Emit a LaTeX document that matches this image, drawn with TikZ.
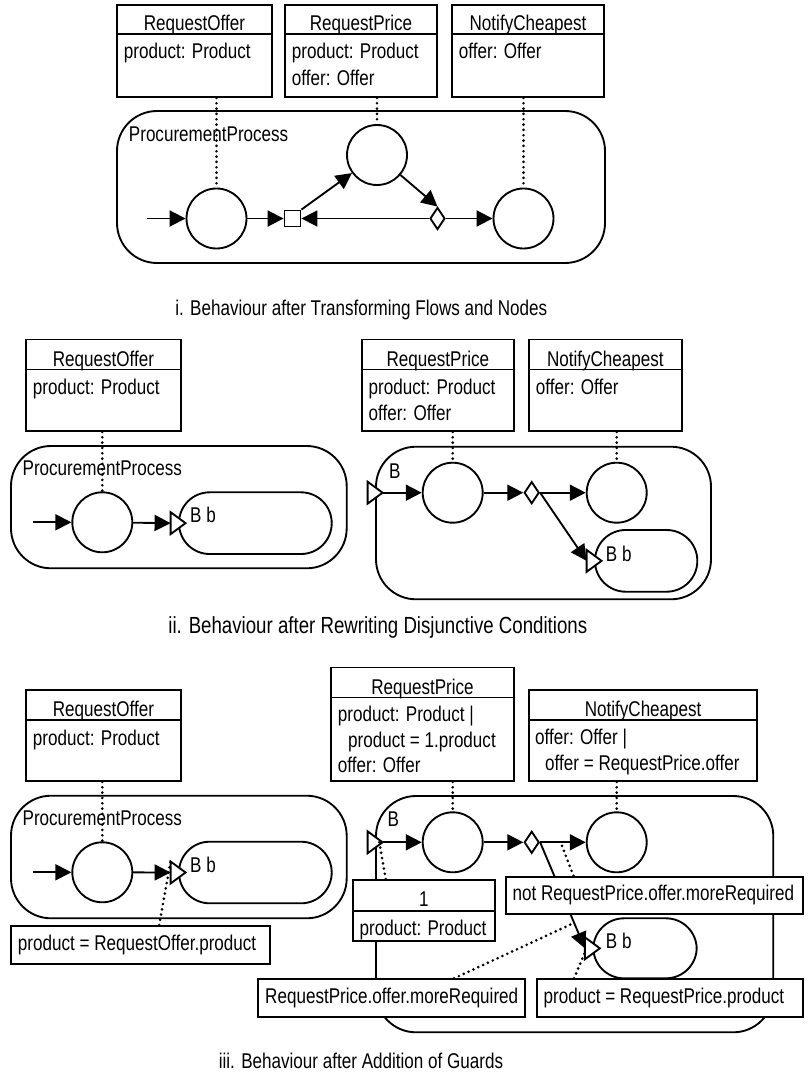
\documentclass[tikz,border=0pt]{standalone}
\usepackage{fontspec}
\setmainfont[FakeStretch=0.8]{Liberation Sans}
\usetikzlibrary{arrows.meta,shapes.geometric,fit}

\tikzset{every picture/.style={line width=1.4pt}}
\tikzset{
  clshead/.style={draw, fill=white, inner sep=0pt},
  clsbody/.style={draw, fill=white, inner sep=0pt},
  head/.style={inner sep=0pt, anchor=base},
  proc/.style={draw, inner sep=0pt, rounded corners=30pt},
  sub/.style={draw, fill=white, inner sep=0pt, rounded corners=23pt},
  act/.style={draw, circle, fill=white, inner sep=0pt, minimum size=45pt},
  decide/.style={draw, diamond, fill=white, inner sep=0pt, minimum width=11.25pt, minimum height=16.5pt},
  merge/.style={draw, rectangle, fill=white, inner sep=0pt, minimum size=12pt},
  guard/.style={draw, fill=white, inner sep=0pt},
  txt/.style={inner sep=0pt, anchor=base west},
  flow/.style={-{Triangle[length=12pt,width=12pt]}},
  link/.style={line width=2.2pt, line cap=round, dash pattern=on 0pt off 4pt},
  inpin/.pic={
    \draw[fill=white] (-7.5,-11) -- (7.5,0) -- (-7.5,11) -- cycle;
    \coordinate (-in) at (-7.5,0);
    \coordinate (-out) at (7.5,0);
    \coordinate (-lo) at (-7.5,11);
    \coordinate (-e) at (3.75,2.75);
  }
}

\begin{document}
\begin{tikzpicture}[x=0.75pt,y=0.75pt,yscale=-1,xscale=1,font=\fontsize{16pt}{19pt}\selectfont]
\useasboundingbox (0,0) rectangle (807,1074);

%%%%%%%%%% i. %%%%%%%%%%
%Shape: Rounded Rect
\node[proc, fit={(117,111) (605,263)}] (pp1) {};
% Text Node
\node[txt] (pp1t) at (128,141.5) {ProcurementProcess};
%Shape: Circle
\node[act] (a1) at (216.5,218.5) {};
\node[act] (a2) at (377,155) {};
\node[act] (a3) at (523.5,218.5) {};
%Shape: Square
\node[merge] (m1) at (292.5,218.5) {};
%Shape: Diamond
\node[decide] (d1) at (437.5,218.5) {};
\coordinate (s1) at (147,218.5);
%Straight Lines
\draw[flow] (s1) -- (a1);
\draw[flow] (a1) -- (m1);
\draw[flow] (m1.north east) -- (a2);
\draw[flow] (a2) -- (d1.north);
\draw[flow] (d1.west) -- (m1.east);
\draw[flow] (d1) -- (a3);

%Shape: Rectangle
\node[clshead, fit={(117,5) (272,34)}] (ro1) {};
\node[clsbody, fit={(117,34) (272,97)}] (ro1b) {};
\node[head] (ro1n) at ([yshift=-3.3pt]ro1.south) {RequestOffer};
\node[txt] (ro1p) at (123,59) {product: Product};
\node[clshead, fit={(285,5) (437,34)}] (rp1) {};
\node[clsbody, fit={(285,34) (437,97)}] (rp1b) {};
\node[head] (rp1n) at ([yshift=-3.3pt]rp1.south) {RequestPrice};
\node[txt] (rp1p) at (291,59) {product: Product};
\node[txt] (rp1o) at (291,85) {offer: Offer};
\node[clshead, fit={(452,5) (604,34)}] (nc1) {};
\node[clsbody, fit={(452,34) (604,97)}] (nc1b) {};
\node[head] (nc1n) at ([yshift=-3.3pt]nc1.south) {NotifyCheapest};
\node[txt] (nc1o) at (458,59) {offer: Offer};
%Dotted Lines
\draw[link] (a1.north |- ro1b.south) -- (a1.north);
\draw[link] (a2.north |- rp1b.south) -- (a2.north);
\draw[link] (a3.north |- nc1b.south) -- (a3.north);

% Text Node
\node[head] (cap1) at (361.3,315) {i. Behaviour after Transforming Flows and Nodes};

%%%%%%%%%% ii. %%%%%%%%%%
%Shape: Rounded Rect
\node[proc, fit={(11,446) (346.7,568.3)}] (pp2) {};
\node[txt] (pp2t) at (21.7,475) {ProcurementProcess};
\node[act] (b1) at (102.3,522.3) {};
\node[sub, fit={(179,492.3) (331.7,554)}] (bb2) {};
\pic (pn2) at (bb2.west) {inpin};
\node[txt] (bb2t) at (189.3,522.5) {B b};
\coordinate (s2) at (33.3,522.3);
\draw[flow] (s2) -- (b1);
\draw[flow] (b1) -- (pn2-in);

\node[clshead, fit={(26,339.5) (181,369.5)}] (ro2) {};
\node[clsbody, fit={(26,369.5) (181,431)}] (ro2b) {};
\node[head] (ro2n) at ([yshift=-3.3pt]ro2.south) {RequestOffer};
\node[txt] (ro2p) at (32,394.5) {product: Product};
\draw[link] (b1.north |- ro2b.south) -- (b1.north);

%Shape: Rounded Rect
\node[proc, fit={(376,446.7) (711,599.3)}] (pb2) {};
\node[txt] (pb2t) at (388.3,478) {B};
\node[act] (c1) at (452.7,492.7) {};
\node[decide] (d2) at (531.7,492.7) {};
\node[act] (c2) at (616.7,492.7) {};
\node[sub, fit={(595,530) (697.3,591.7)}] (bb3) {};
\pic (pi2) at (pb2.west |- c1) {inpin};
\pic (pn3) at (bb3.west) {inpin};
\node[txt] (bb3t) at (605,561.5) {B b};
\draw[flow] (pi2-out) -- (c1);
\draw[flow] (c1) -- (d2.west);
\draw[flow] (d2.east) -- (c2);
\draw[flow] (d2.east) -- (pn3-in);

\node[clshead, fit={(361.7,339.5) (514,369.5)}] (rp2) {};
\node[clsbody, fit={(361.7,369.5) (514,431)}] (rp2b) {};
\node[head] (rp2n) at ([yshift=-3.3pt]rp2.south) {RequestPrice};
\node[txt] (rp2p) at (367.7,394.5) {product: Product};
\node[txt] (rp2o) at (367.7,420.5) {offer: Offer};
\node[clshead, fit={(529,339.5) (681.7,369.5)}] (nc2) {};
\node[clsbody, fit={(529,369.5) (681.7,431)}] (nc2b) {};
\node[head] (nc2n) at ([yshift=-3.3pt]nc2.south) {NotifyCheapest};
\node[txt] (nc2o) at (535,394.5) {offer: Offer};
\draw[link] (c1.north |- rp2b.south) -- (c1.north);
\draw[link] (c2.north |- nc2b.south) -- (c2.north);

% Text Node
\node[head, font=\fontsize{17.5pt}{20pt}\selectfont] (cap2) at (377.8,633.3) {ii. Behaviour after Rewriting Disjunctive Conditions};

%%%%%%%%%% iii. %%%%%%%%%%
%Shape: Rounded Rect
\node[proc, fit={(11,795.7) (346.7,918.3)}] (pp3) {};
\node[txt] (pp3t) at (21.7,825) {ProcurementProcess};
\node[act] (e1) at (102.3,872.3) {};
\node[sub, fit={(179,841.7) (331.7,903.3)}] (bb4) {};
\pic (pn4) at (bb4.west) {inpin};
\node[txt] (bb4t) at (189.3,872.5) {B b};
\coordinate (s3) at (33.3,872.3);
\draw[flow] (s3) -- (e1);
\draw[flow] (e1) -- (pn4-in);

\node[clshead, fit={(26,690) (181,720)}] (ro3) {};
\node[clsbody, fit={(26,720) (181,781)}] (ro3b) {};
\node[head] (ro3n) at ([yshift=-3.3pt]ro3.south) {RequestOffer};
\node[txt] (ro3p) at (32,745) {product: Product};
\draw[link] (e1.north |- ro3b.south) -- (e1.north);

\node[guard, fit={(11,926) (270,964)}] (g1) {};
\node[txt] (g1t) at (17,950) {product = RequestOffer.product};
\draw[link] ([xshift=14pt]g1.north) -- (pn4-lo);

%Shape: Rounded Rect
\node[proc, fit={(376,796) (773.3,1032.3)}] (pb3) {};
\node[txt] (pb3t) at (386.7,826.7) {B};
\node[act] (f1) at (452.7,842.3) {};
\node[decide] (d3) at (531.7,842.3) {};
\node[act] (f2) at (616.7,842.3) {};
\node[sub, fit={(593.3,918.3) (696.7,978.3)}] (bb5) {};
\pic (pi3) at (pb3.west |- f1) {inpin};
\pic (pn5) at (bb5.west) {inpin};
\node[txt] (bb5t) at (605,948.3) {B b};
\draw[flow] (pi3-out) -- (f1);
\draw[flow] (f1) -- (d3.west);
\draw[flow] (d3.east) -- coordinate[pos=0.45] (ga) (f2);
\draw[flow] (d3.east) -- coordinate[pos=0.76] (gb) (pn5-in);

\node[clshead, fit={(331,667.5) (514,697.5)}] (rp3) {};
\node[clsbody, fit={(331,697.5) (514,781)}] (rp3b) {};
\node[head] (rp3n) at ([yshift=-3.3pt]rp3.south) {RequestPrice};
\node[txt] (rp3p) at (337,721.7) {product: Product |};
\node[txt] (rp3q) at (347.3,747.3) {product = 1.product};
\node[txt] (rp3o) at (337,772.7) {offer: Offer};
\node[clshead, fit={(529,690) (757.3,720)}] (nc3) {};
\node[clsbody, fit={(529,720) (757.3,781)}] (nc3b) {};
\node[head] (nc3n) at ([yshift=-3.3pt]nc3.south) {NotifyCheapest};
\node[txt] (nc3o) at (534.3,744.3) {offer: Offer |};
\node[txt] (nc3q) at (544.3,770) {offer = RequestPrice.offer};
\draw[link] (f1.north |- rp3b.south) -- (f1.north);
\draw[link] (f2.north |- nc3b.south) -- (f2.north);

% object 1
\node[clshead, fit={(352.7,880) (495,910.7)}] (o1) {};
\node[clsbody, fit={(352.7,910.7) (495,941)}] (o1b) {};
\node[head] (o1n) at ([yshift=-3.5pt]o1.south) {1};
\node[txt] (o1p) at (358.7,935) {product: Product};

% guards
\node[guard, fit={(505.7,876.7) (803.3,914.3)}] (g2) {};
\node[txt] (g2t) at (511.7,900.5) {not RequestPrice.offer.moreRequired};
\node[guard, fit={(258.3,979.3) (525,1017.3)}] (g3) {};
\node[txt] (g3t) at (264.3,1003.5) {RequestPrice.offer.moreRequired};
\node[guard, fit={(536.7,979.3) (803.3,1017.3)}] (g4) {};
\node[txt] (g4t) at (542.7,1003.5) {product = RequestPrice.product};

%Dotted Lines
\draw[link] ([xshift=25.5pt]o1.north west) -- (pi3-e);
\draw[link] ([xshift=51.5pt]g2.north west) -- (ga);
\draw[link] ([xshift=147.5pt]g3.north west) -- (gb);
\draw[link] ([xshift=28.7pt]g4.north west) -- ([yshift=3pt]pn5-in);

% Text Node
\node[head] (cap3) at (361,1068) {iii. Behaviour after Addition of Guards};

\end{tikzpicture}
\end{document}
